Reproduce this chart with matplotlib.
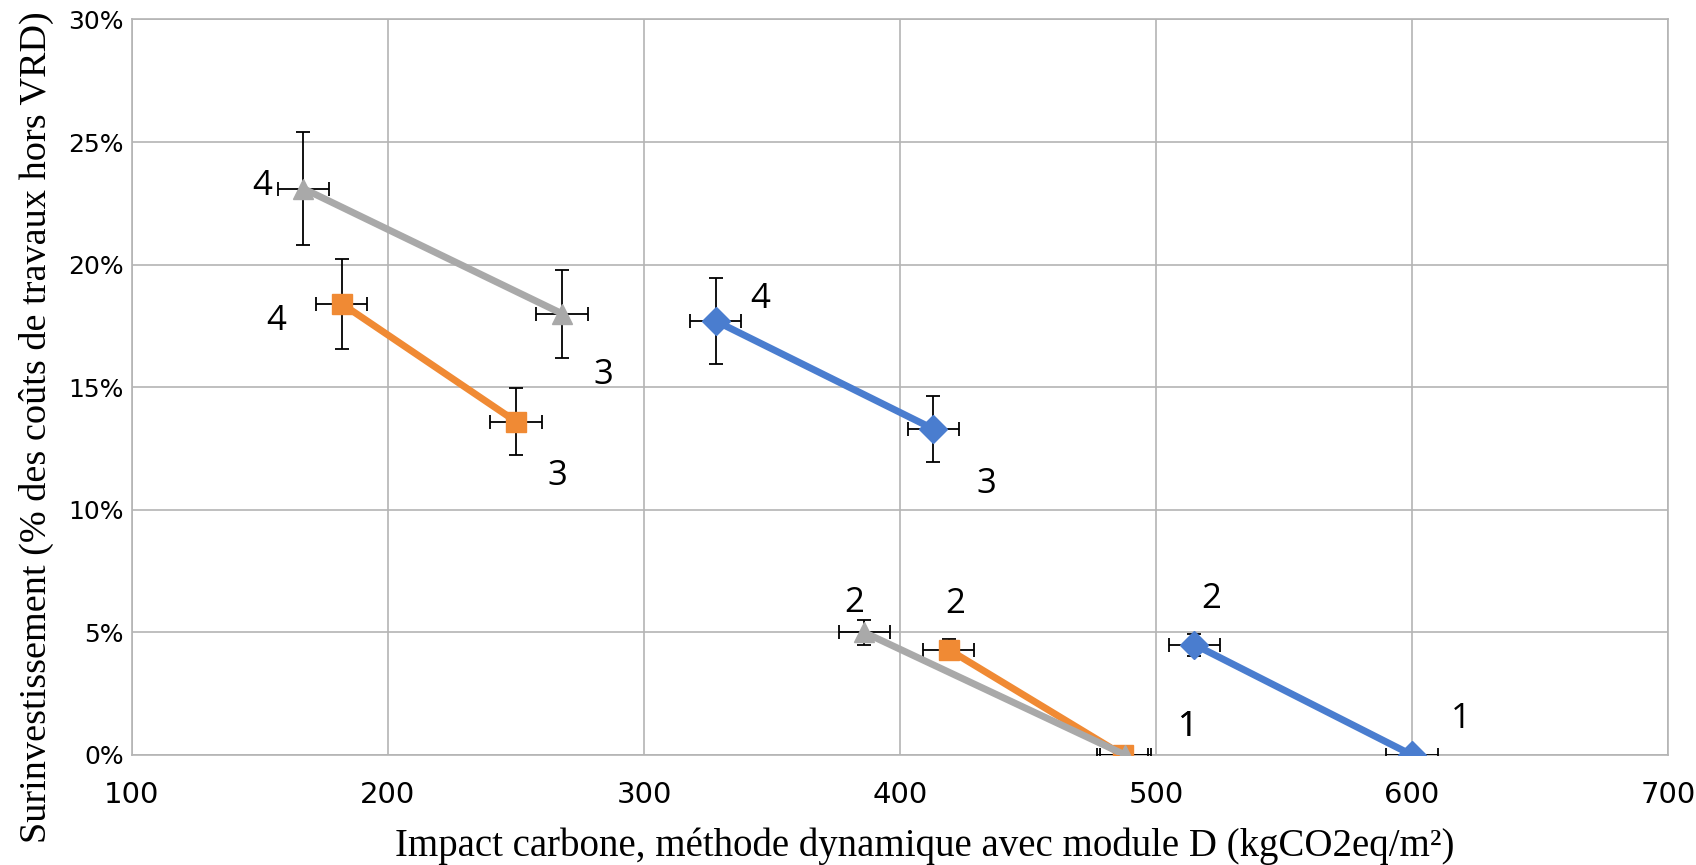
import matplotlib.pyplot as plt
from matplotlib.ticker import PercentFormatter

# Impact carbone (kgCO2eq/m²) et surinvestissement (%) par variante 1 -> 4
x_bleu = [600, 515, 413, 328]
y_bleu = [0.0, 4.5, 13.3, 17.7]
ey_bleu = [0.0, 0.45, 1.33, 1.77]

x_orange = [487, 419, 250, 182]
y_orange = [0.0, 4.3, 13.6, 18.4]
ey_orange = [0.0, 0.43, 1.36, 1.84]

x_gris = [488, 386, 268, 167]
y_gris = [0.0, 5.0, 18.0, 23.1]
ey_gris = [0.0, 0.5, 1.8, 2.31]

ex = [10, 10, 10, 10]
etiquettes = ["1", "2", "3", "4"]

fig = plt.figure(figsize=(16.96, 8.65), dpi=100)
ax = fig.add_axes([0.0778, 0.1272, 0.9057, 0.8503])

series = [
    (x_bleu, y_bleu, ey_bleu, "#4a7dcf", "D", 14,
     [(35, 26), (12, 33), (38, -40), (32, 16)]),
    (x_orange, y_orange, ey_orange, "#f08a34", "s", 14,
     [(47, 20), (5, 33), (30, -39), (-47, -12)]),
    (x_gris, y_gris, ey_gris, "#a9a9a9", "^", 15,
     [(45.2, 20), (-7, 21), (30, -44), (-30, 2)]),
]

for xs, ys, eys, couleur, marq, taille, decal in series:
    ax.errorbar(xs, ys, xerr=ex, yerr=eys, fmt="none", ecolor="black",
                elinewidth=1.3, capsize=5, capthick=1.3, zorder=3)
    # deux segments : variantes 1-2 et 3-4
    for sl in (slice(0, 2), slice(2, 4)):
        ax.plot(xs[sl], ys[sl], color=couleur, lw=5, marker=marq, ms=taille,
                mfc=couleur, mec=couleur, zorder=4)
    for xi, yi, lab, d in zip(xs, ys, etiquettes, decal):
        ax.annotate(lab, (xi, yi), xytext=d, textcoords="offset points",
                    ha="center", va="center", fontsize=25,
                    family="Open Sans", color="black")

ax.set_xlim(100, 700)
ax.set_ylim(0, 30)
ax.set_xticks(range(100, 701, 100))
ax.set_yticks(range(0, 31, 5))
ax.yaxis.set_major_formatter(PercentFormatter(decimals=0))
ax.grid(True, color="#b4b4b4", lw=1.2)
ax.set_axisbelow(True)
for s in ax.spines.values():
    s.set_color("#b4b4b4")
    s.set_linewidth(1.2)
ax.tick_params(length=0)
ax.tick_params(axis="x", labelsize=21, pad=19)
ax.tick_params(axis="y", labelsize=18, pad=6)

ax.set_xlabel("Impact carbone, méthode dynamique avec module D (kgCO2eq/m²)",
              family="Liberation Serif", fontsize=28, va="top")
ax.xaxis.set_label_coords(0.516, -0.098)
ax.set_ylabel("Surinvestissement (% des coûts de travaux hors VRD)",
              family="Liberation Serif", fontsize=27.5)
ax.yaxis.set_label_coords(-0.051, 0.446)

fig.savefig("out.png", dpi=100)
